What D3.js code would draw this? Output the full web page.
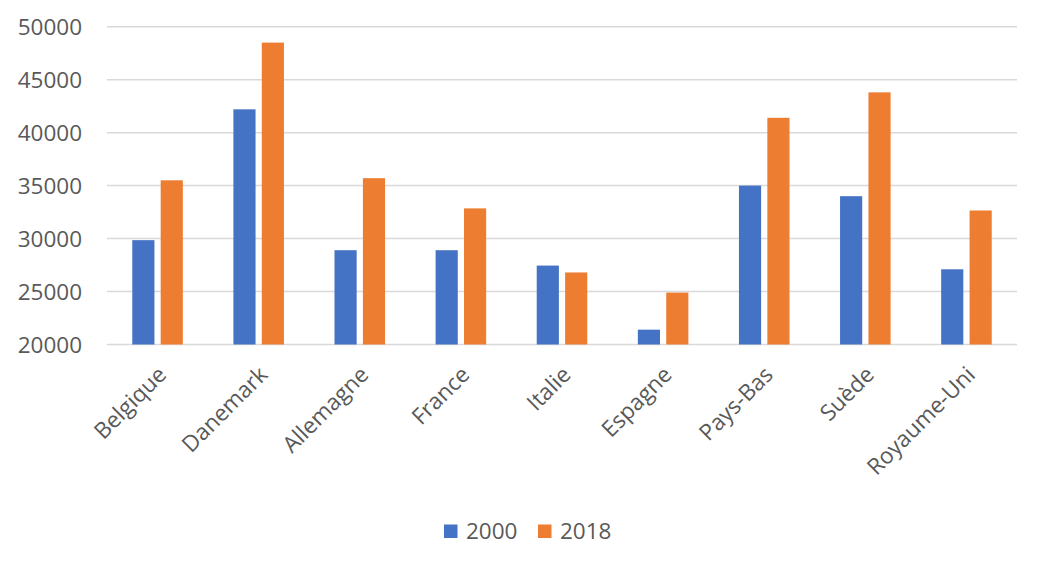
<!DOCTYPE html>
<head>
    <meta charset="utf-8">
    <style>
        body { margin: 0; background: #fff; }
        text { font-family: "Open Sans", "Noto Sans", sans-serif; fill: #595959; }
    </style>
</head>
<body>
    <script src="https://d3js.org/d3.v7.min.js"></script>
    <script>
        const w = 1045, h = 568;

        const countries = ['Belgique', 'Danemark', 'Allemagne', 'France', 'Italie',
                           'Espagne', 'Pays-Bas', 'Suède', 'Royaume-Uni'];
        const series = ['2000', '2018'];
        const values2000 = [29850, 42200, 28900, 28900, 27450, 21400, 35000, 34000, 27100];
        const values2018 = [35500, 48500, 35700, 32850, 26800, 24900, 41400, 43800, 32650];
        const yTicks = [20000, 25000, 30000, 35000, 40000, 45000, 50000];
        const colors = ['#4472C4', '#ED7D31'];

        const rows = countries.map((c, i) => ({
            country: c,
            vals: [values2000[i], values2018[i]]
        }));

        const svg = d3.select('body')
                      .append('svg')
                      .attr('width', w)
                      .attr('height', h);

        const x0 = d3.scaleBand()
                     .domain(countries)
                     .range([107, 1017])
                     .paddingInner(0.5)
                     .paddingOuter(0.25);

        const x1 = d3.scaleBand()
                     .domain(series)
                     .range([0, x0.bandwidth()])
                     .paddingInner(0.22);

        const y = d3.scaleLinear()
                    .domain([20000, 50000])
                    .range([344.5, 26.7]);

        // gridlines
        svg.append('g')
           .selectAll('line')
           .data(yTicks)
           .enter()
           .append('line')
           .attr('x1', 107)
           .attr('x2', 1017)
           .attr('y1', d => y(d))
           .attr('y2', d => y(d))
           .attr('stroke', '#d9d9d9')
           .attr('stroke-width', 1.5);

        // y labels
        svg.append('g')
           .selectAll('text')
           .data(yTicks)
           .enter()
           .append('text')
           .attr('x', 82)
           .attr('y', d => y(d))
           .attr('dy', '0.36em')
           .attr('text-anchor', 'end')
           .style('font-size', '22.5px')
           .text(d => d);

        // bars
        const groups = svg.append('g')
           .selectAll('g')
           .data(rows)
           .enter()
           .append('g')
           .attr('transform', d => `translate(${x0(d.country)},0)`);

        groups.selectAll('rect')
              .data(d => d.vals)
              .enter()
              .append('rect')
              .attr('x', (d, i) => x1(series[i]))
              .attr('width', x1.bandwidth())
              .attr('y', d => y(d))
              .attr('height', d => y(20000) - y(d))
              .attr('fill', (d, i) => colors[i]);

        // x labels
        svg.append('g')
           .selectAll('text')
           .data(countries)
           .enter()
           .append('text')
           .attr('transform', d => `translate(${x0(d) + x0.bandwidth() / 2 - 1},${365}) rotate(-45)`)
           .attr('text-anchor', 'end')
           .attr('dy', '0.7em')
           .style('font-size', '22.5px')
           .text(d => d);

        // legend
        const legend = svg.append('g');
        const legendX = [444, 538];
        series.forEach((s, i) => {
            legend.append('rect')
                  .attr('x', legendX[i])
                  .attr('y', 524.5)
                  .attr('width', 13.5)
                  .attr('height', 13.5)
                  .attr('fill', colors[i]);
            legend.append('text')
                  .attr('x', legendX[i] + 22)
                  .attr('y', 531)
                  .attr('dy', '0.36em')
                  .style('font-size', '22.5px')
                  .text(s);
        });
    </script>
</body>
